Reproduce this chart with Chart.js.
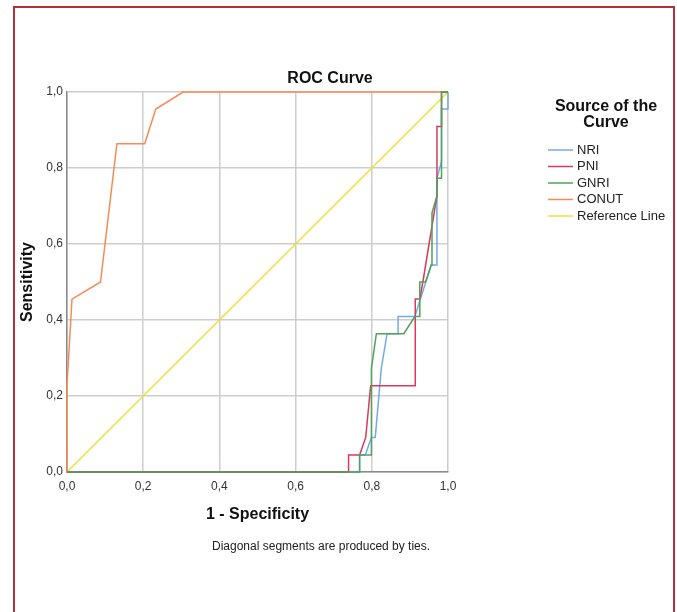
<!doctype html>
<html lang="en">
<head>
<meta charset="utf-8">
<title>ROC Curve</title>
<script src="https://cdn.jsdelivr.net/npm/chart.js"></script>
<style>
  html, body { margin: 0; padding: 0; background: #fff; }
  #wrap { position: relative; width: 677px; height: 612px; }
</style>
</head>
<body>
<div id="wrap"><canvas id="roc" width="677" height="612"></canvas></div>
<script>
// ROC curves (1 - specificity, sensitivity)
const seriesNames = ['NRI', 'PNI', 'GNRI', 'CONUT', 'Reference Line'];
const seriesColors = ['#74abe6', '#d83a5e', '#4fa35a', '#f68b57', '#e9e23c'];

const nriX = [0, 0.768, 0.768, 0.783, 0.799, 0.809, 0.825, 0.840, 0.869, 0.869, 0.913, 0.956, 0.971, 0.971, 0.983, 0.983, 1.0, 1.0];
const nriY = [0, 0, 0.045, 0.045, 0.091, 0.091, 0.273, 0.364, 0.364, 0.409, 0.409, 0.545, 0.545, 0.773, 0.818, 0.955, 0.955, 1.0];

const pniX = [0, 0.739, 0.739, 0.768, 0.784, 0.797, 0.914, 0.914, 0.926, 0.934, 0.971, 0.971, 0.983, 0.983, 1.0];
const pniY = [0, 0, 0.045, 0.045, 0.091, 0.227, 0.227, 0.455, 0.455, 0.5, 0.727, 0.909, 0.909, 1.0, 1.0];

const gnriX = [0, 0.768, 0.768, 0.799, 0.799, 0.812, 0.884, 0.913, 0.926, 0.926, 0.941, 0.956, 0.958, 0.971, 0.971, 0.983, 0.983, 1.0];
const gnriY = [0, 0, 0.045, 0.045, 0.273, 0.364, 0.364, 0.409, 0.409, 0.5, 0.5, 0.545, 0.682, 0.727, 0.773, 0.773, 1.0, 1.0];

const conutX = [0, 0, 0.013, 0.088, 0.131, 0.204, 0.233, 0.305, 1.0];
const conutY = [0, 0.227, 0.455, 0.5, 0.864, 0.864, 0.955, 1.0, 1.0];

const refX = [0, 1];
const refY = [0, 1];

const tickValues = [0, 0.2, 0.4, 0.6, 0.8, 1.0];

function pts(xs, ys) {
  return xs.map((x, i) => ({ x: x, y: ys[i] }));
}

const allX = [nriX, pniX, gnriX, conutX, refX];
const allY = [nriY, pniY, gnriY, conutY, refY];
const drawOrder = [2, 1, 0, 3, 4]; // smaller = drawn later (on top)

const FONT = '"Liberation Sans", Arial, sans-serif';
Chart.defaults.font.family = FONT;
Chart.defaults.color = '#333';

// texte, cadre et légende dessinés à la main
const decor = {
  id: 'decor',
  beforeDraw(chart) {
    const c = chart.ctx;
    c.save();
    c.fillStyle = '#fff';
    c.fillRect(0, 0, chart.width, chart.height);
    c.restore();
  },
  afterDraw(chart) {
    const c = chart.ctx;
    const a = chart.chartArea;
    c.save();
    // cadre rouge
    c.strokeStyle = 'rgb(178,48,58)';
    c.lineWidth = 2;
    c.strokeRect(14, 7, 660, 640);

    c.fillStyle = '#111';
    c.textBaseline = 'middle';
    c.textAlign = 'center';
    c.font = 'bold 16px ' + FONT;
    c.fillText('ROC Curve', 330, 79);
    c.fillText('1 - Specificity', (a.left + a.right) / 2, 515);

    c.save();
    c.translate(28, (a.top + a.bottom) / 2);
    c.rotate(-Math.PI / 2);
    c.fillText('Sensitivity', 0, 0);
    c.restore();

    c.textAlign = 'left';
    c.font = '12px ' + FONT;
    c.fillStyle = '#222';
    c.fillText('Diagonal segments are produced by ties.', 212, 547);

    // légende
    c.textAlign = 'center';
    c.font = 'bold 16px ' + FONT;
    c.fillStyle = '#111';
    c.fillText('Source of the', 606, 107);
    c.fillText('Curve', 606, 123);
    c.textAlign = 'left';
    c.font = '13px ' + FONT;
    chart.data.datasets.forEach((ds, i) => {
      const y = 150 + i * 16.5;
      c.strokeStyle = ds.borderColor;
      c.lineWidth = 1.5;
      c.beginPath();
      c.moveTo(548, y);
      c.lineTo(573, y);
      c.stroke();
      c.fillStyle = '#222';
      c.fillText(ds.label, 577, y);
    });
    c.restore();
  }
};

const ctx = document.getElementById('roc').getContext('2d');
const rocChart = new Chart(ctx, {
  type: 'scatter',
  data: {
    datasets: seriesNames.map((name, i) => ({
      label: name,
      data: pts(allX[i], allY[i]),
      showLine: true,
      borderColor: seriesColors[i],
      backgroundColor: seriesColors[i],
      borderWidth: 1.5,
      pointRadius: 0,
      pointHoverRadius: 0,
      tension: 0,
      clip: 4,
      order: drawOrder[i]
    }))
  },
  options: {
    responsive: false,
    animation: false,
    layout: { padding: { left: 0, top: 92, right: 229, bottom: 0 } },
    plugins: {
      legend: { display: false },
      title: { display: false },
      tooltip: { enabled: false }
    },
    scales: {
      x: {
        type: 'linear',
        min: 0,
        max: 1,
        afterBuildTicks: s => { s.ticks = tickValues.map(v => ({ value: v })); },
        afterFit: s => { s.height = 140; },
        ticks: {
          padding: 7,
          font: { size: 12 },
          color: '#333',
          maxRotation: 0,
          callback: v => v.toFixed(1).replace('.', ',')
        },
        grid: { color: '#cdcdcd', lineWidth: 1.5, drawTicks: false },
        border: { color: '#8a8a8a', width: 1.5 }
      },
      y: {
        type: 'linear',
        min: 0,
        max: 1,
        afterBuildTicks: s => { s.ticks = tickValues.map(v => ({ value: v })); },
        afterFit: s => { s.width = 67; },
        ticks: {
          padding: 4,
          font: { size: 12 },
          color: '#333',
          callback: v => v.toFixed(1).replace('.', ',')
        },
        grid: { color: '#cdcdcd', lineWidth: 1.5, drawTicks: false },
        border: { color: '#8a8a8a', width: 1.5 }
      }
    }
  },
  plugins: [decor]
});
</script>
</body>
</html>
